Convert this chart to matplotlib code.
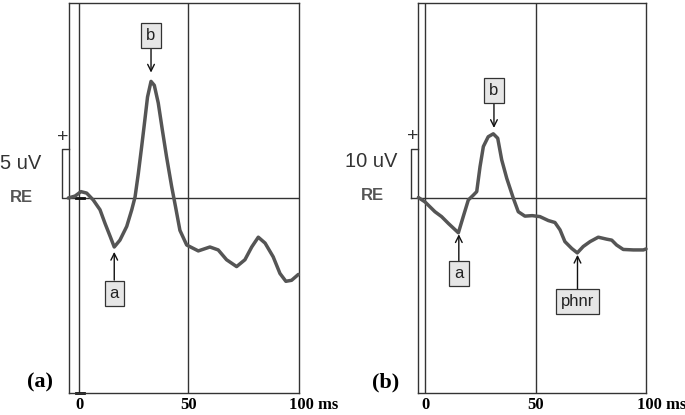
import matplotlib
matplotlib.use("Agg")
import matplotlib.pyplot as plt

# ---- data ----
time_a = [-4.9, -1.8, 0.9, 3.5, 6.5, 9.6, 11.9, 14.2, 16.1, 18.7, 21.8, 24.1, 25.6, 27.1,
          28.6, 30.1, 31.3, 32.9, 34.4, 36.2, 38.1, 40.0, 42.3, 44.1, 46.1, 49.2, 54.5,
          59.8, 63.6, 67.4, 72.0, 75.8, 78.9, 81.9, 85.0, 88.7, 91.8, 94.5, 97.1, 100.2]
volt_a = [0.0, 0.2, 0.65, 0.5, -0.2, -1.2, -2.6, -3.9, -5.0, -4.3, -2.9, -1.2, 0.1, 2.5,
          5.2, 8.0, 10.3, 11.9, 11.5, 9.7, 6.9, 4.2, 1.2, -0.9, -3.3, -4.8, -5.4,
          -5.0, -5.3, -6.3, -7.0, -6.3, -5.0, -4.0, -4.6, -6.0, -7.7, -8.5, -8.4, -7.8]

time_b = [-3.0, 0.0, 4.5, 7.5, 10.6, 15.1, 17.3, 19.6, 21.9, 23.4, 24.9, 26.4, 28.6, 30.9,
          32.9, 34.7, 37.0, 40.0, 42.2, 45.2, 48.5, 52.0, 55.8, 58.8, 61.1, 63.3, 66.4,
          68.9, 71.6, 74.7, 78.4, 82.2, 84.5, 86.7, 89.7, 94.3, 98.8, 100.0]
volt_b = [0.1, -0.8, -2.8, -3.8, -5.2, -7.1, -3.8, -0.4, 0.6, 1.3, 6.4, 10.5, 12.5, 13.1,
          12.2, 7.8, 4.0, -0.1, -2.8, -3.7, -3.6, -3.8, -4.6, -5.0, -6.5, -8.9, -10.3,
          -11.2, -9.9, -8.9, -8.0, -8.4, -8.6, -9.6, -10.5, -10.6, -10.6, -10.4]

tick_values = [0, 50, 100]
tick_labels = ["0", "50", "100 ms"]
cal_a = 5    # uV
cal_b = 10   # uV
peaks_a = {"b": (32.9, 12.8), "a": (16.1, -5.5)}
peaks_b = {"b": (31.2, 14.3), "a": (15.3, -7.4), "phnr": (69.0, -11.6)}

W, H = 685, 415
fig = plt.figure(figsize=(W / 100, H / 100), dpi=100)
fig.patch.set_facecolor("white")

def rect(x0, x1, y0, y1):
    return [x0 / W, (H - y1) / H, (x1 - x0) / W, (y1 - y0) / H]

FRAME = "#333333"
TRACE = "#555555"
BOX = dict(boxstyle="square,pad=0.3", fc="#e6e6e6", ec="#333333", lw=0.9)
LBL_FONT = dict(family="Liberation Sans", fontsize=12, color="#222222")
ARROW = dict(arrowstyle="->", color="#111111", lw=1.0, shrinkA=0, shrinkB=0)

def setup(ax, xlim, ylim):
    ax.set_xlim(*xlim)
    ax.set_ylim(*ylim)
    ax.set_xticks([])
    ax.set_yticks([])
    for s in ax.spines.values():
        s.set_color(FRAME)
        s.set_linewidth(1.0)
    ax.axvline(0, color=FRAME, lw=1.0)
    ax.axvline(50, color=FRAME, lw=1.0)
    ax.axhline(0, color=FRAME, lw=1.0)

# ---- panel a ----
axa = fig.add_axes(rect(69, 299, 3, 393))
setup(axa, (-4.57, 100.5), (-19.9, 19.9))
axa.plot(time_a, volt_a, color=TRACE, lw=2.5, solid_joinstyle="round",
         solid_capstyle="round", clip_on=False, zorder=3)
axa.plot([-1.5, 2.5], [0, 0], color="#111111", lw=2.0)
axa.plot([-1.5, 2.5], [-19.9, -19.9], color="#111111", lw=2.0, clip_on=False)
axa.plot([-4.57, -7.77, -7.77, -4.57], [0, 0, cal_a, cal_a], color=FRAME, lw=1.0, clip_on=False)
axa.text(-7.3, 6.2, "+", ha="center", va="center", fontsize=14, color=FRAME,
         family="Liberation Sans", clip_on=False)
box_pos_a = {"b": 16.6, "a": -9.7}
for lbl, (x, y) in peaks_a.items():
    axa.annotate(lbl, xy=(x, y), xytext=(x, box_pos_a[lbl]), ha="center", va="center",
                 bbox=BOX, arrowprops=ARROW, **LBL_FONT)

# ---- panel b ----
axb = fig.add_axes(rect(418, 646, 3, 393))
setup(axb, (-3.17, 100.0), (-39.8, 39.8))
axb.plot(time_b, volt_b, color=TRACE, lw=2.5, solid_joinstyle="round",
         solid_capstyle="round", clip_on=False, zorder=3)
axb.plot([-6.33, -3.17], [0, 0], color=FRAME, lw=1.0, clip_on=False)
axb.plot([-6.33, -6.33, -3.17], [0, cal_b, cal_b], color=FRAME, lw=1.0, clip_on=False)
axb.text(-5.4, 12.5, "+", ha="center", va="center", fontsize=14, color=FRAME,
         family="Liberation Sans", clip_on=False)
box_pos_b = {"b": 22.0, "a": -15.5, "phnr": -21.2}
for lbl, (x, y) in peaks_b.items():
    axb.annotate(lbl, xy=(x, y), xytext=(x, box_pos_b[lbl]), ha="center", va="center",
                 bbox=BOX, arrowprops=ARROW, **LBL_FONT)

# ---- outside texts ----
def ftext(px, py, s, **kw):
    fig.text(px / W, 1 - py / H, s, **kw)

ftext(0, 163, "5 uV", ha="left", va="center", family="Liberation Sans", fontsize=14.5, color="#333333")
ftext(10, 197, "RE", ha="left", va="center", family="Liberation Sans", fontsize=12,
      weight="bold", color="#555555")
ftext(345, 161, "10 uV", ha="left", va="center", family="Liberation Sans", fontsize=14.5, color="#333333")
ftext(361, 196, "RE", ha="left", va="center", family="Liberation Sans", fontsize=12,
      weight="bold", color="#555555")

ftext(27, 382, "(a)", ha="left", va="center", family="Liberation Serif", fontsize=16, weight="bold")
ftext(372, 382, "(b)", ha="left", va="center", family="Liberation Serif", fontsize=16, weight="bold")

# x tick labels placed under the axes via the x-axis blended transform
tick_y = -0.03
for ax in (axa, axb):
    for v, lab in zip(tick_values, tick_labels):
        if lab.endswith("ms"):
            ax.text(v - 4.0, tick_y, lab, transform=ax.get_xaxis_transform(), ha="left",
                    va="center", family="Liberation Serif", fontsize=12, weight="bold")
        else:
            ax.text(v, tick_y, lab, transform=ax.get_xaxis_transform(), ha="center",
                    va="center", family="Liberation Serif", fontsize=12, weight="bold")

fig.savefig("out.png", dpi=100, facecolor="white")
